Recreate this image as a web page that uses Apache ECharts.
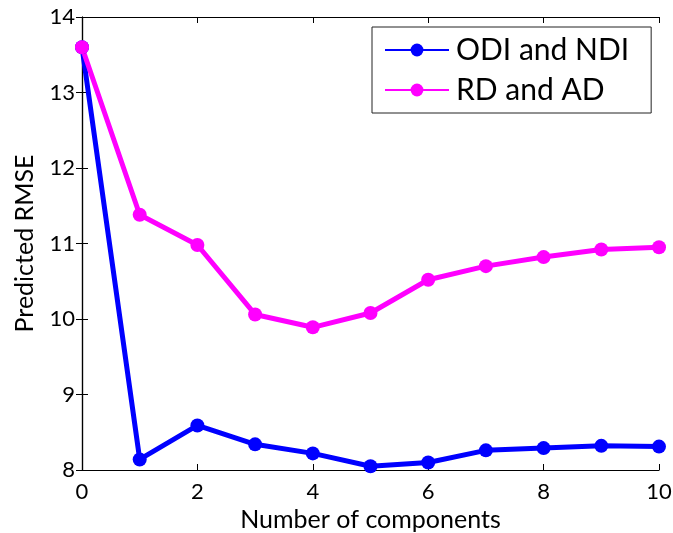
<!DOCTYPE html>
<html>
<head>
<meta charset="utf-8">
<script src="https://cdn.jsdelivr.net/npm/echarts@6/dist/echarts.min.js"></script>
<style>
  html, body { margin: 0; padding: 0; background: #fff; }
  #chart { width: 673px; height: 533px; }
</style>
</head>
<body>
<div id="chart"></div>
<script>
// 数据
var components = [0, 1, 2, 3, 4, 5, 6, 7, 8, 9, 10];
var odiNdi = [13.6, 8.14, 8.59, 8.34, 8.22, 8.05, 8.10, 8.26, 8.29, 8.32, 8.31];
var rdAd = [13.6, 11.38, 10.98, 10.06, 9.89, 10.08, 10.52, 10.70, 10.82, 10.92, 10.95];

function pairs(xs, ys) {
    var out = [];
    for (var i = 0; i < xs.length; i++) {
        out.push([xs[i], ys[i]]);
    }
    return out;
}

var font = 'Lato';
var chart = echarts.init(document.getElementById('chart'));

var axisLine = { show: true, lineStyle: { color: '#000', width: 1.2 } };
var axisTick = { show: true, inside: true, length: 6, lineStyle: { color: '#000', width: 1 } };

var option = {
    animation: false,
    backgroundColor: '#fff',
    grid: { left: 82, right: 14, top: 17, bottom: 63, containLabel: false, outerBoundsMode: 'none' },
    legend: {
        orient: 'vertical',
        left: 372,
        top: 27,
        padding: [8, 22, 8, 12],
        itemGap: 10,
        itemWidth: 64,
        itemHeight: 16,
        borderColor: '#222',
        borderWidth: 1,
        textStyle: { fontFamily: font, fontSize: 30, lineHeight: 30, color: '#000', padding: [0, 0, 0, 2] },
        data: ['ODI and NDI', 'RD and AD']
    },
    xAxis: [{
        type: 'value',
        min: 0, max: 10, interval: 2,
        name: 'Number of components',
        nameLocation: 'middle',
        nameGap: 37,
        nameTextStyle: { fontFamily: font, fontSize: 25, color: '#000' },
        axisLine: axisLine,
        axisTick: axisTick,
        axisLabel: { fontFamily: font, fontSize: 22, color: '#000', margin: 11 },
        splitLine: { show: false }
    }, {
        type: 'value',
        position: 'top',
        min: 0, max: 10, interval: 2,
        axisLine: axisLine,
        axisTick: axisTick,
        axisLabel: { show: false },
        splitLine: { show: false }
    }],
    yAxis: [{
        type: 'value',
        min: 8, max: 14, interval: 1,
        name: 'Predicted RMSE',
        nameLocation: 'middle',
        nameGap: 45,
        nameTextStyle: { fontFamily: font, fontSize: 25, color: '#000' },
        axisLine: axisLine,
        axisTick: axisTick,
        axisLabel: { fontFamily: font, fontSize: 22, color: '#000', margin: 7 },
        splitLine: { show: false }
    }, {
        type: 'value',
        position: 'right',
        min: 8, max: 14, interval: 1,
        axisLine: axisLine,
        axisTick: axisTick,
        axisLabel: { show: false },
        splitLine: { show: false }
    }],
    series: [{
        name: 'ODI and NDI',
        type: 'line',
        data: pairs(components, odiNdi),
        symbol: 'circle',
        symbolSize: 14,
        color: '#0000ff',
        lineStyle: { width: 5, color: '#0000ff' },
        itemStyle: { color: '#0000ff' }
    }, {
        name: 'RD and AD',
        type: 'line',
        data: pairs(components, rdAd),
        symbol: 'circle',
        symbolSize: 14,
        color: '#ff00ff',
        lineStyle: { width: 5, color: '#ff00ff' },
        itemStyle: { color: '#ff00ff' }
    }]
};

chart.setOption(option);
</script>
</body>
</html>
